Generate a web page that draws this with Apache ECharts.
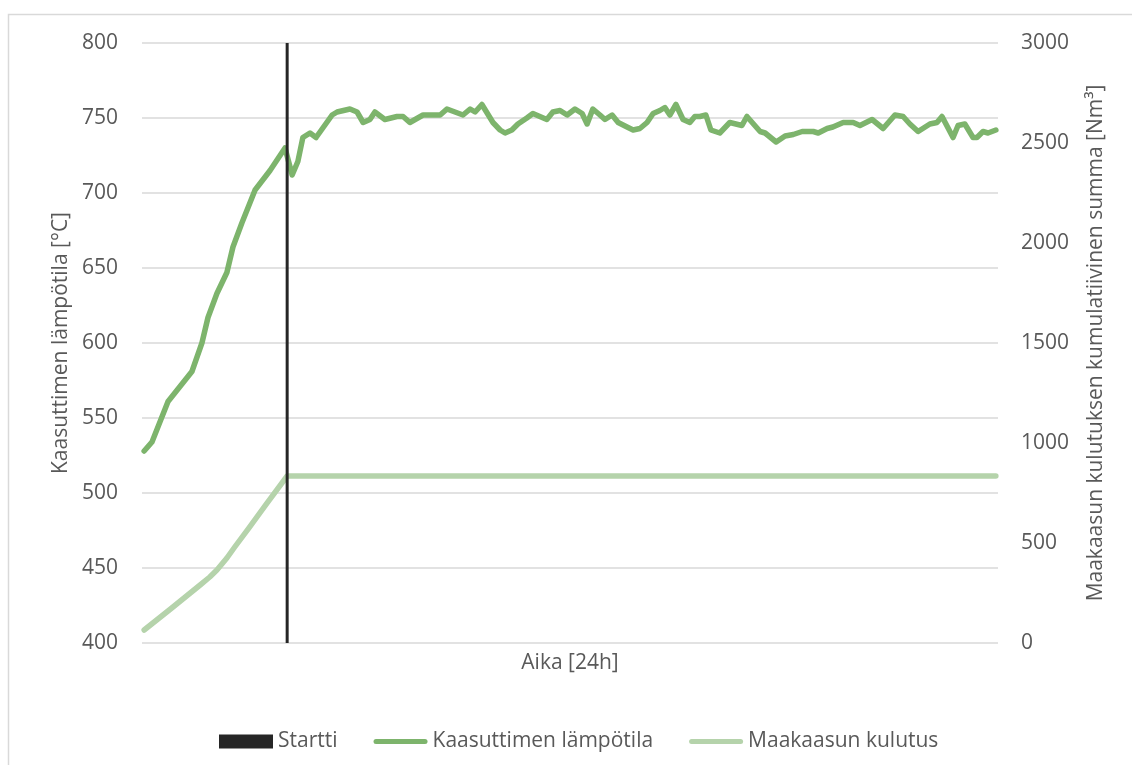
<!DOCTYPE html>
<html>
<head>
<meta charset="utf-8">
<script src="https://cdn.jsdelivr.net/npm/echarts@6/dist/echarts.min.js"></script>
<style>
html,body{margin:0;padding:0;background:#fff;}
#c{width:1132px;height:765px;}
</style>
</head>
<body>
<div id="c"></div>
<script>
// Time in hours (0–24)
const tempTimes = [0.06,0.28,0.73,1.40,1.68,1.85,2.10,2.38,2.55,2.80,3.17,3.59,4.01,4.21,4.37,4.51,4.71,4.88,5.33,5.47,5.83,6.03,6.20,6.39,6.53,6.81,7.15,7.32,7.51,7.88,8.36,8.55,9.00,9.20,9.34,9.53,9.84,10.04,10.18,10.37,10.54,10.79,10.96,11.35,11.52,11.72,11.92,12.14,12.34,12.48,12.64,12.84,12.98,13.18,13.35,13.60,13.77,13.96,14.16,14.33,14.52,14.66,14.80,14.97,15.17,15.36,15.50,15.64,15.81,15.95,16.20,16.48,16.82,16.96,17.33,17.47,17.78,18.03,18.26,18.51,18.82,18.96,19.21,19.37,19.66,19.94,20.13,20.47,20.78,21.11,21.34,21.53,21.76,22.09,22.29,22.43,22.74,22.88,23.07,23.30,23.41,23.58,23.72,23.94];
// Gasifier temperature [°C]
const tempValues = [528,534,561,581,600,617,633,647,664,680,702,715,730,712,721,737,740,737,752,754,756,754,747,749,754,749,751,751,747,752,752,756,752,756,754,759,747,742,740,742,746,750,753,749,754,755,752,756,753,746,756,752,749,752,747,744,742,743,747,753,755,757,752,759,749,747,751,751,752,742,740,747,745,751,741,740,734,738,739,741,741,740,743,744,747,747,745,749,743,752,751,746,741,746,747,751,737,745,746,737,737,741,740,742];
// Natural gas cumulative consumption [Nm³]
const gasTimes = [0.06,0.8,1.63,1.9,2.1,2.38,2.6,3.0,3.5,4.07,23.94];
const gasValues = [65,170,290,330,365,425,480,576,698,835,835];
// Start marker
const startTime = 4.07;
const startRange = [400, 800];

const leftTicks = {min:400, max:800, interval:50};
const rightTicks = {min:0, max:3000, interval:500};

const FONT = 'Open Sans';
const TXT = '#595959';
const FS = 21;
const lineIcon = 'path://M2.5,0 L51.5,0 A2.5,2.5 0 0 1 51.5,5 L2.5,5 A2.5,2.5 0 0 1 2.5,0 Z';

const chart = echarts.init(document.getElementById('c'), null, {renderer:'canvas'});
chart.setOption({
  animation:false,
  backgroundColor:'#fff',
  textStyle:{fontFamily:FONT},
  graphic:[{type:'rect', shape:{x:8.5,y:14.5,width:1200,height:800}, style:{fill:'none', stroke:'#d9d9d9', lineWidth:1.5}, silent:true, z:-1}],
  grid:{left:142, right:134, top:43, bottom:122, containLabel:false},
  legend:{
    top:726, left:214, itemGap:36, itemWidth:54, itemHeight:14,
    textStyle:{fontFamily:FONT, fontSize:FS, color:TXT},
    data:[{name:'Startti', icon:'rect'}, {name:'Kaasuttimen lämpötila', icon:lineIcon}, {name:'Maakaasun kulutus', icon:lineIcon}]
  },
  xAxis:{
    type:'value', min:0, max:24,
    name:'Aika [24h]', nameLocation:'middle', nameGap:10,
    nameTextStyle:{fontFamily:FONT, fontSize:FS, color:TXT},
    axisLine:{show:false}, axisTick:{show:false}, axisLabel:{show:false}, splitLine:{show:false}
  },
  yAxis:[{
    type:'value', min:leftTicks.min, max:leftTicks.max, interval:leftTicks.interval, position:'left',
    name:'Kaasuttimen lämpötila [°C]', nameLocation:'middle', nameRotate:90, nameGap:70,
    nameTextStyle:{fontFamily:FONT, fontSize:FS, color:TXT},
    axisLine:{show:false}, axisTick:{show:false},
    axisLabel:{fontFamily:FONT, fontSize:FS, color:TXT, margin:24, formatter:v=>String(v)},
    splitLine:{lineStyle:{color:'#d9d9d9', width:1.5}}
  },{
    type:'value', min:rightTicks.min, max:rightTicks.max, interval:rightTicks.interval, position:'right',
    name:'Maakaasun kulutuksen kumulatiivinen summa [Nm³]', nameLocation:'middle', nameRotate:90, nameGap:88,
    nameTextStyle:{fontFamily:FONT, fontSize:FS, color:TXT},
    axisLine:{show:false}, axisTick:{show:false},
    axisLabel:{fontFamily:FONT, fontSize:FS, color:TXT, margin:23, formatter:v=>String(v)},
    splitLine:{show:false}
  }],
  series:[{
    name:'Startti', type:'line', yAxisIndex:0, showSymbol:false, symbol:'none',
    data:startRange.map(v=>[startTime, v]),
    lineStyle:{color:'#262626', width:3}, itemStyle:{color:'#262626'}, z:5
  },{
    name:'Kaasuttimen lämpötila', type:'line', yAxisIndex:0, showSymbol:false, symbol:'none',
    data:tempTimes.map((t,i)=>[t, tempValues[i]]),
    lineStyle:{color:'#7db46c', width:5.5, cap:'round', join:'round'}, itemStyle:{color:'#7db46c'}, z:3
  },{
    name:'Maakaasun kulutus', type:'line', yAxisIndex:1, showSymbol:false, symbol:'none',
    data:gasTimes.map((t,i)=>[t, gasValues[i]]),
    lineStyle:{color:'#b5d3ab', width:5.5, cap:'round', join:'round'}, itemStyle:{color:'#b5d3ab'}, z:2
  }]
});
</script>
</body>
</html>
